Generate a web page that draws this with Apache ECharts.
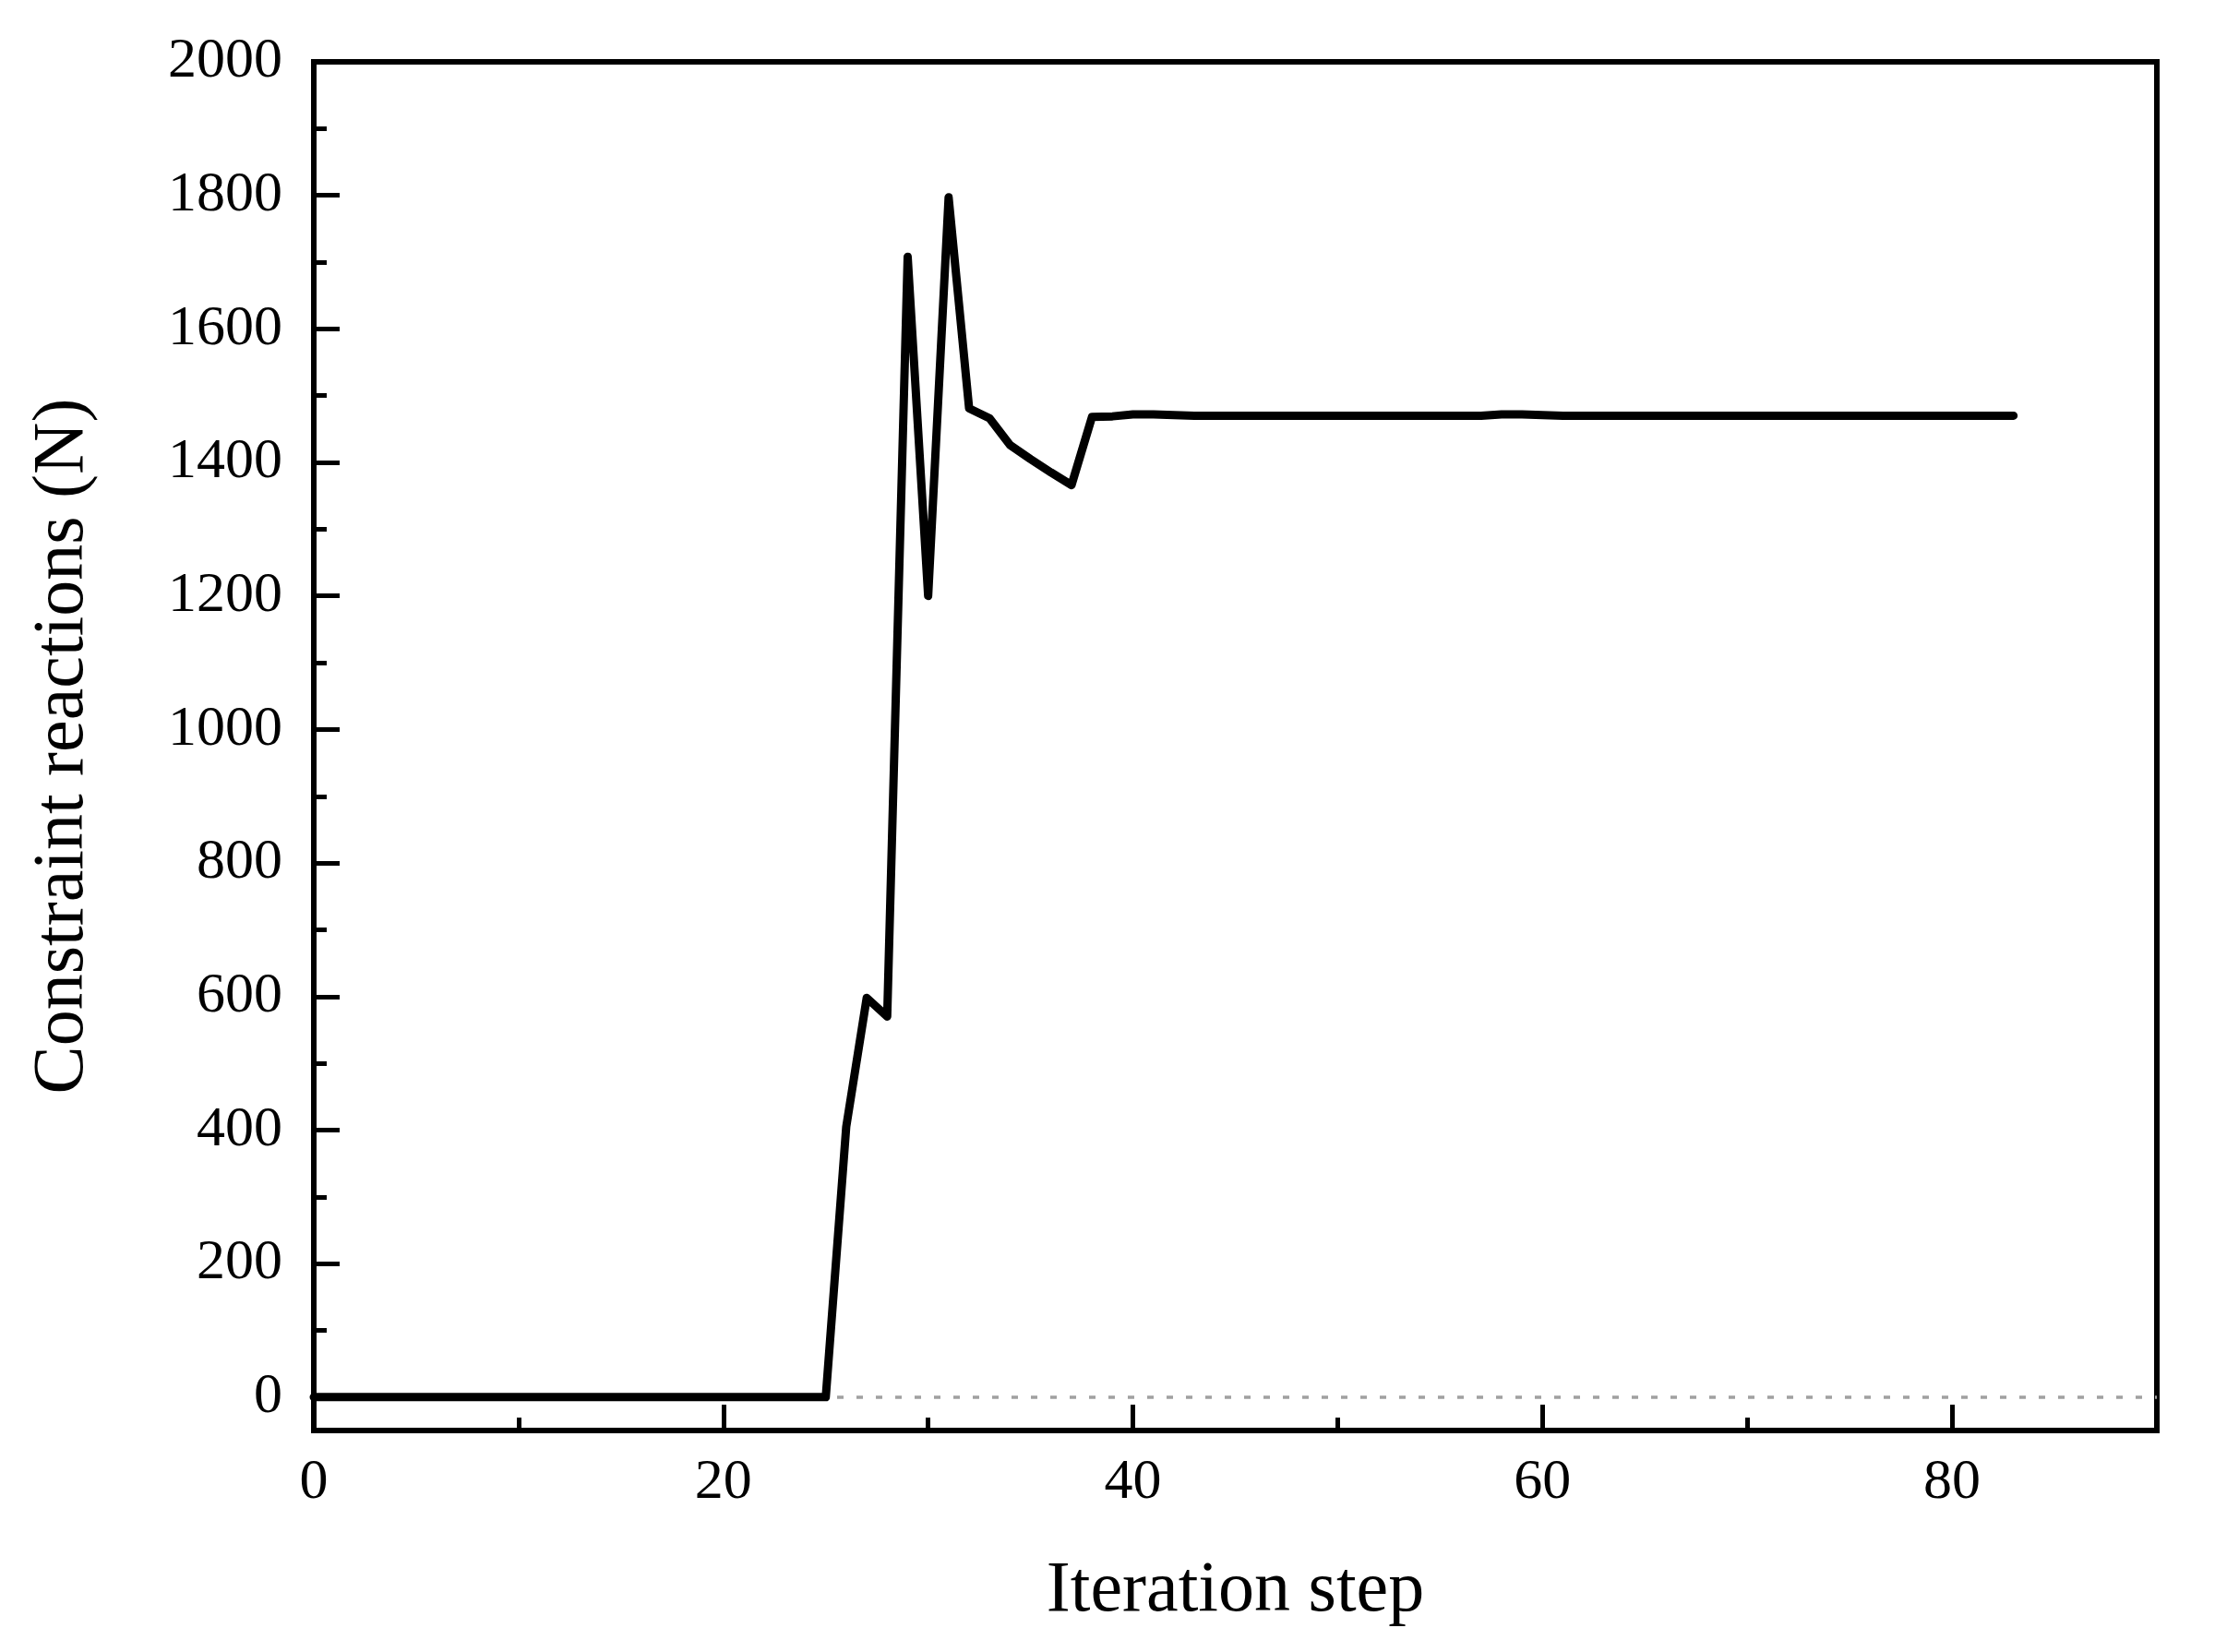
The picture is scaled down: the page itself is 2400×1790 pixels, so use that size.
<!DOCTYPE html>
<html><head><meta charset="utf-8">
<script src="https://cdn.jsdelivr.net/npm/echarts@6/dist/echarts.min.js"></script>
<style>html,body{margin:0;padding:0;background:#fff}#c{width:2400px;height:1790px}</style>
</head><body><div id="c"></div>
<script>
const steps = [0,1,2,3,4,5,6,7,8,9,10,11,12,13,14,15,16,17,18,19,20,21,22,23,24,25,26,27,28,29,30,31,32,33,34,35,36,37,38,39,40,41,42,43,44,45,46,47,48,49,50,51,52,53,54,55,56,57,58,59,60,61,62,63,64,65,66,67,68,69,70,71,72,73,74,75,76,77,78,79,80,81,82,83];
const reactions = [0,0,0,0,0,0,0,0,0,0,0,0,0,0,0,0,0,0,0,0,0,0,0,0,0,0,
  405,598,570,1708,1200,1797,1481,1466,1426,1405,1385,1366,1468,1469,1472,1472,1471,
  1470,1470,1470,1470,1470,1470,1470,1470,1470,1470,1470,1470,1470,1470,1470,
  1472,1472,1471,
  1470,1470,1470,1470,1470,1470,1470,1470,1470,1470,1470,1470,1470,1470,1470,1470,1470,1470,1470,1470,1470,1470,1470];
const xMajorTicks = [0,20,40,60,80];
const xMinorTicks = [10,30,50,70];
const yMajorTicks = [0,200,400,600,800,1000,1200,1400,1600,1800,2000];
const yMinorTicks = [100,300,500,700,900,1100,1300,1500,1700,1900];
const zeroLevel = 0;

const FONT = '"Liberation Serif","Times New Roman",serif';
const chart = echarts.init(document.getElementById('c'));
const axisLineStyle = {color:'#000', width:6};
const plain = v => String(v);
chart.setOption({
  animation:false,
  backgroundColor:'#fff',
  grid:{left:340,right:63,top:67,bottom:240,show:true,borderColor:'#000',borderWidth:6,backgroundColor:'transparent'},
  xAxis:[{
    type:'value',min:0,max:90,position:'bottom',
    axisLine:{show:true,onZero:false,lineStyle:axisLineStyle},
    axisTick:{show:true,inside:true,length:28,lineStyle:{color:'#000',width:5},customValues:xMajorTicks},
    axisLabel:{show:true,customValues:xMajorTicks,formatter:plain,fontFamily:FONT,fontSize:62,color:'#000',margin:26},
    splitLine:{show:false},
    name:'Iteration step',nameLocation:'middle',nameGap:136,
    nameTextStyle:{fontFamily:FONT,fontSize:78,color:'#000'}
  },{
    type:'value',min:0,max:90,position:'bottom',
    axisLine:{show:false,onZero:false},
    axisTick:{show:true,inside:true,length:14,lineStyle:{color:'#000',width:5},customValues:xMinorTicks},
    axisLabel:{show:false},splitLine:{show:false}
  }],
  yAxis:[{
    type:'value',min:-50,max:2000,position:'left',
    axisLine:{show:true,onZero:false,lineStyle:axisLineStyle},
    axisTick:{show:true,inside:true,length:28,lineStyle:{color:'#000',width:5},customValues:yMajorTicks},
    axisLabel:{show:true,customValues:yMajorTicks,formatter:plain,fontFamily:FONT,fontSize:62,color:'#000',margin:34},
    splitLine:{show:false},
    name:'Constraint reactions (N)',nameLocation:'middle',nameGap:232,nameRotate:90,
    nameTextStyle:{fontFamily:FONT,fontSize:78,color:'#000'}
  },{
    type:'value',min:-50,max:2000,position:'left',
    axisLine:{show:false,onZero:false},
    axisTick:{show:true,inside:true,length:14,lineStyle:{color:'#000',width:5},customValues:yMinorTicks},
    axisLabel:{show:false},splitLine:{show:false}
  }],
  series:[{
    type:'line',data:[],z:1,silent:true,
    markLine:{z:1,silent:true,symbol:'none',label:{show:false},
      lineStyle:{type:[7,14],color:'#a0a0a0',width:3.5},
      data:[{yAxis:zeroLevel}]}
  },{
    type:'line',z:3,
    data:steps.map((s,i)=>[s,reactions[i]]),
    showSymbol:false,symbol:'none',
    lineStyle:{color:'#000',width:9,join:'round',cap:'round'}
  }]
});
</script></body></html>
